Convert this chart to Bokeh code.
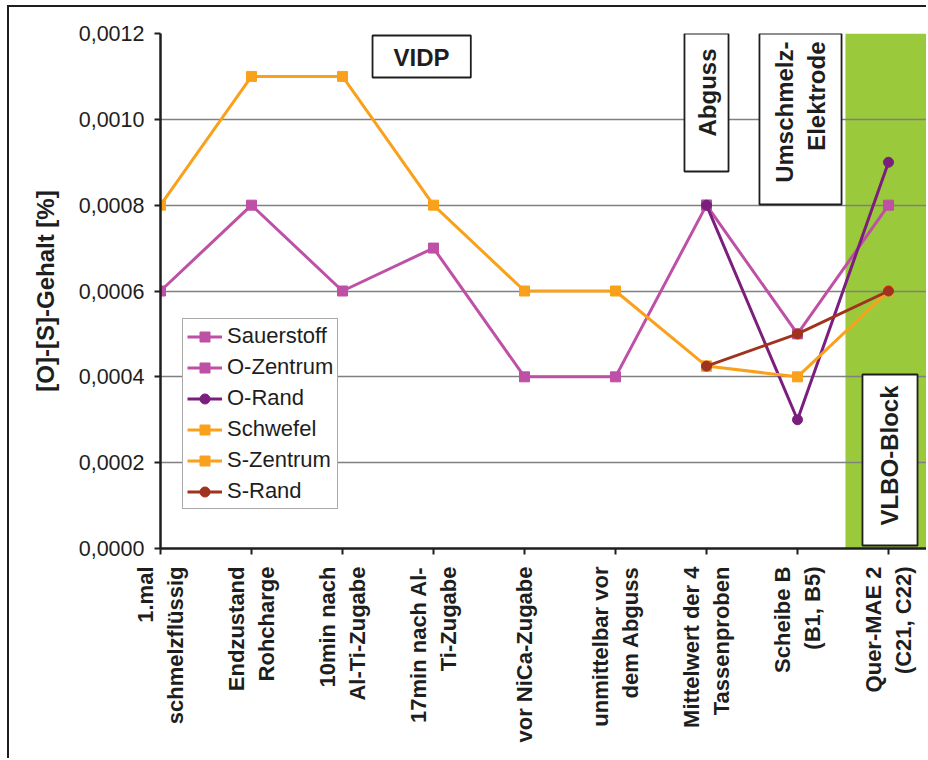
import math
from bokeh.plotting import figure
from bokeh.models import (Range1d, FixedTicker, CustomJSTickFormatter, BoxAnnotation,
                          Label, Legend)
from bokeh.embed import file_html
from bokeh.resources import INLINE

# ---------------- data ----------------
categories = ["1.mal\nschmelzflüssig", "Endzustand\nRohcharge", "10min nach\nAl-Ti-Zugabe",
              "17min nach Al-\nTi-Zugabe", "vor NiCa-Zugabe", "unmittelbar vor\ndem Abguss",
              "Mittelwert der 4\nTassenproben", "Scheibe B\n(B1, B5)", "Quer-MAE 2\n(C21, C22)"]

sauerstoff_cat = [0, 1, 2, 3, 4, 5, 6]
sauerstoff_val = [0.0006, 0.0008, 0.0006, 0.0007, 0.0004, 0.0004, 0.0008]
o_zentrum_cat = [6, 7, 8]
o_zentrum_val = [0.0008, 0.0005, 0.0008]
o_rand_cat = [6, 7, 8]
o_rand_val = [0.0008, 0.0003, 0.0009]
schwefel_cat = [0, 1, 2, 3, 4, 5, 6]
schwefel_val = [0.0008, 0.0011, 0.0011, 0.0008, 0.0006, 0.0006, 0.000425]
s_zentrum_cat = [6, 7, 8]
s_zentrum_val = [0.000425, 0.0004, 0.0006]
s_rand_cat = [6, 7, 8]
s_rand_val = [0.000425, 0.0005, 0.0006]

y_ticks = [0.0, 0.0002, 0.0004, 0.0006, 0.0008, 0.0010, 0.0012]
y_label = "[O]-[S]-Gehalt [%]"

# ---------------- layout / style ----------------
FONT = "Liberation Sans"
OFF_X, OFF_Y = 7, 5          # css margin before the frame border
BORDER = 2
W = 928 - OFF_X - BORDER     # canvas width
H = 760 - OFF_Y - BORDER     # canvas height
ML, MT, MR = 151, 26, 0
MB = H - (548 - OFF_Y - BORDER)
PX_PER_CAT = 91.0
x_end = (W - ML - MR) / PX_PER_CAT

PINK = "#BE50A6"
PURPLE = "#7B1E7D"
ORANGE = "#F9A11B"
DARKRED = "#A0321E"
GREEN = "#9ACA3C"
INK = "#1e1e1e"

p = figure(width=W, height=H, output_backend="svg", toolbar_location=None,
           x_range=Range1d(0, x_end), y_range=Range1d(0, 0.0012),
           min_border_left=ML, min_border_top=MT, min_border_right=MR, min_border_bottom=MB)
p.styles = {"margin-left": f"{OFF_X}px", "margin-top": f"{OFF_Y}px",
            "border-left": f"{BORDER}px solid #1e1e1e", "border-top": f"{BORDER}px solid #1e1e1e"}
p.outline_line_color = None
p.background_fill_color = "white"
p.border_fill_color = "white"

# green block region
green = BoxAnnotation(left=7.527, fill_color=GREEN, fill_alpha=1.0, line_color=None, level="image")
p.add_layout(green)

# grid
p.xgrid.visible = False
p.ygrid.ticker = FixedTicker(ticks=y_ticks)
p.ygrid.grid_line_color = "#808080"
p.ygrid.grid_line_width = 1.5

# axes
p.yaxis.ticker = FixedTicker(ticks=y_ticks)
p.yaxis.formatter = CustomJSTickFormatter(code="return tick.toFixed(4).replace('.', ',');")
p.yaxis.axis_label = y_label
p.yaxis.axis_label_text_font = FONT
p.yaxis.axis_label_text_font_style = "bold"
p.yaxis.axis_label_text_font_size = "24px"
p.yaxis.axis_label_text_color = INK
p.yaxis.axis_label_standoff = 17
p.yaxis.major_label_text_font = FONT
p.yaxis.major_label_text_font_size = "21.5px"
p.yaxis.major_label_text_color = INK
p.yaxis.major_label_standoff = 10

p.xaxis.ticker = FixedTicker(ticks=list(range(len(categories))))
p.xaxis.formatter = CustomJSTickFormatter(args=dict(labels=categories),
                                          code="const i = Math.round(tick); return (i >= 0 && i < labels.length) ? labels[i] : '';")
p.xaxis.major_label_orientation = math.pi / 2
p.xaxis.major_label_text_font = FONT
p.xaxis.major_label_text_font_style = "bold"
p.xaxis.major_label_text_font_size = "22px"
p.xaxis.major_label_text_color = INK
p.xaxis.major_label_standoff = 12

for ax in (p.xaxis, p.yaxis):
    ax.axis_line_color = INK
    ax.axis_line_width = 2.5
    ax.major_tick_line_color = INK
    ax.major_tick_line_width = 2
    ax.major_tick_in = 0
    ax.major_tick_out = 6
    ax.minor_tick_line_color = None

# annotation boxes
def box(l, r, t, b):
    ba = BoxAnnotation(left=l, right=r, top=t, bottom=b, fill_color="white", fill_alpha=1.0,
                       line_color=INK, line_alpha=1.0, line_width=1.8)
    p.add_layout(ba)

def label(x, y, text, angle=0.0, align="center"):
    lb = Label(x=x, y=y, text=text, angle=angle, text_align=align, text_baseline="middle",
               text_font=FONT, text_font_style="bold", text_font_size="24px", text_color=INK)
    p.add_layout(lb)

box(2.33, 3.41, 0.0011953, 0.0010975)
label(2.868, 0.001144, "VIDP")
box(5.758, 6.242, 0.0011995, 0.0008784)
label(6.011, 0.0010625, "Abguss", angle=math.pi / 2)
box(6.582, 7.484, 0.0011995, 0.0008016)
label(7.033, 0.0011814, "Umschmelz-\nElektrode", angle=math.pi / 2, align="right")
box(7.714, 8.319, 0.0004054, 0.000007)
label(8.011, 0.0002167, "VLBO-Block", angle=math.pi / 2)

# series
series = [
    ("Sauerstoff", sauerstoff_cat, sauerstoff_val, PINK, "square"),
    ("O-Zentrum", o_zentrum_cat, o_zentrum_val, PINK, "square"),
    ("O-Rand", o_rand_cat, o_rand_val, PURPLE, "circle"),
    ("Schwefel", schwefel_cat, schwefel_val, ORANGE, "square"),
    ("S-Zentrum", s_zentrum_cat, s_zentrum_val, ORANGE, "square"),
    ("S-Rand", s_rand_cat, s_rand_val, DARKRED, "circle"),
]
legend_items = []
for name, xs, ys, col, mk in series:
    r1 = p.line(xs, ys, line_color=col, line_width=3)
    r2 = p.scatter(xs, ys, marker=mk, size=10, fill_color=col, line_color=col)
    legend_items.append((name, [r1, r2]))

legend = Legend(items=legend_items, location=(22, 39), margin=0, padding=4, spacing=5,
                label_height=25, glyph_height=25, glyph_width=35, label_standoff=5,
                label_text_font=FONT, label_text_font_size="22px", label_text_color=INK,
                border_line_color="#555555", border_line_width=1.5,
                background_fill_color="white", background_fill_alpha=1.0)
p.add_layout(legend, "center")

open("out.html", "w").write(file_html(p, INLINE))
